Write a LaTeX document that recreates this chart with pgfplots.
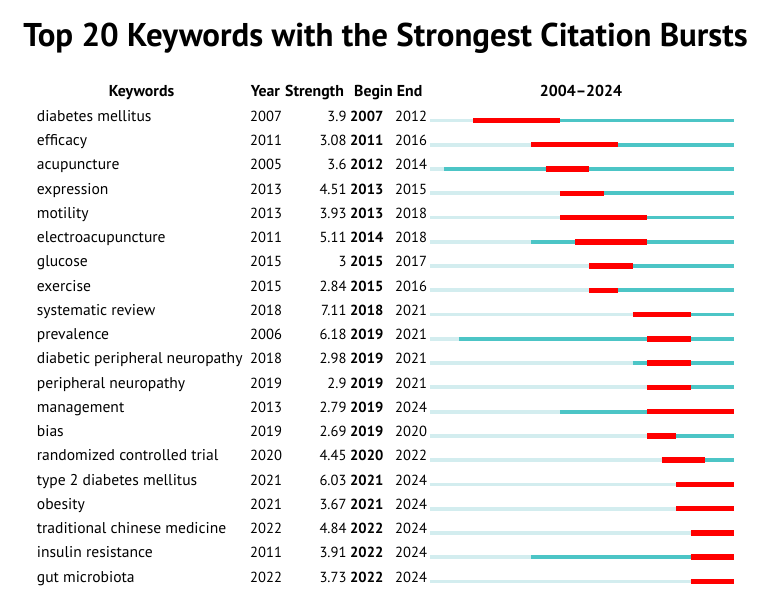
\documentclass[border=0pt]{standalone}
\usepackage{pgfplots}
\usepackage{pgfplotstable}
\pgfplotsset{compat=1.18}
\usepackage{fontspec}
\setmainfont{PT Sans}
\definecolor{lightc}{HTML}{D3EDEF}
\definecolor{darkc}{HTML}{4CC5C6}
\definecolor{burst}{HTML}{FF0000}
\pgfplotstableread{
row year begin end
1 2007 2007 2012
2 2011 2011 2016
3 2005 2012 2014
4 2013 2013 2015
5 2013 2013 2018
6 2011 2014 2018
7 2015 2015 2017
8 2015 2015 2016
9 2018 2018 2021
10 2006 2019 2021
11 2018 2019 2021
12 2019 2019 2021
13 2013 2019 2024
14 2019 2019 2020
15 2020 2020 2022
16 2021 2021 2024
17 2021 2021 2024
18 2022 2022 2024
19 2011 2022 2024
20 2022 2022 2024
}\bursts
\newcommand\kwfont{\fontsize{15.6}{18}\selectfont}
\newcommand\numfont{\fontsize{14.6}{17}\selectfont}
\newcommand\hdfont{\bfseries\fontsize{15.8}{18}\selectfont}
\begin{document}
\begin{tikzpicture}
\path[use as bounding box] (0,0) rectangle (759pt,604pt);
\begin{axis}[at={(0,0)}, anchor=south west, scale only axis,
  width=759pt, height=604pt, hide axis,
  xmin=1974.296, xmax=2026.727,
  y dir=reverse, ymin=-3.967, ymax=20.930, clip=false]
% light segment: before the keyword first appears
\addplot[draw=none, no markers, error bars/.cd, x dir=plus, x explicit,
  error mark=none, error bar style={line width=3.8pt, draw=lightc}]
  table[x expr=2004, y=row, x error expr=\thisrow{year}-2004] {\bursts};
% dark segment: after first appearance
\addplot[draw=none, no markers, error bars/.cd, x dir=plus, x explicit,
  error mark=none, error bar style={line width=3.8pt, draw=darkc}]
  table[x=year, y=row, x error expr=2025-\thisrow{year}] {\bursts};
% burst
\addplot[draw=none, no markers, error bars/.cd, x dir=plus, x explicit,
  error mark=none, error bar style={line width=5.4pt, draw=burst}]
  table[x=begin, y=row, x error expr=\thisrow{end}+1-\thisrow{begin}] {\bursts};
\end{axis}
\begin{scope}[x=1pt, y=-1pt, yshift=604pt]
\node[anchor=base, font=\bfseries\fontsize{32.9}{38}\selectfont, inner sep=0pt] at (385.5,46.7) {Top 20 Keywords with the Strongest Citation Bursts};
\begin{scope}[every node/.style={inner sep=0pt, font=\numfont}]
\node[anchor=base, font=\hdfont] at (141.5,96.3) {Keywords};
\node[anchor=base west, font=\hdfont] at (250.7,96.3) {Year};
\node[anchor=base west, font=\hdfont] at (285,96.3) {Strength};
\node[anchor=base west, font=\hdfont] at (354,96.3) {Begin};
\node[anchor=base west, font=\hdfont] at (396.7,96.3) {End};
\node[anchor=base, font=\hdfont] at (581,96.3) {2004--2024};
\foreach \kw/\yr/\st/\bg/\en [count=\i from 0] in {
 diabetes mellitus/2007/3.9/2007/2012,
 efficacy/2011/3.08/2011/2016,
 acupuncture/2005/3.6/2012/2014,
 expression/2013/4.51/2013/2015,
 motility/2013/3.93/2013/2018,
 electroacupuncture/2011/5.11/2014/2018,
 glucose/2015/3/2015/2017,
 exercise/2015/2.84/2015/2016,
 systematic review/2018/7.11/2018/2021,
 prevalence/2006/6.18/2019/2021,
 diabetic peripheral neuropathy/2018/2.98/2019/2021,
 peripheral neuropathy/2019/2.9/2019/2021,
 management/2013/2.79/2019/2024,
 bias/2019/2.69/2019/2020,
 randomized controlled trial/2020/4.45/2020/2022,
 type 2 diabetes mellitus/2021/6.03/2021/2024,
 obesity/2021/3.67/2021/2024,
 traditional chinese medicine/2022/4.84/2022/2024,
 insulin resistance/2011/3.91/2022/2024,
 gut microbiota/2022/3.73/2022/2024}{
  \pgfmathsetmacro\yy{121.3+\i*24.26}
  \node[anchor=base west, font=\kwfont] at (36.7,\yy) {\kw};
  \node[anchor=base west] at (250,\yy) {\yr};
  \node[anchor=base east] at (346.7,\yy) {\st};
  \node[anchor=base west, font=\bfseries\numfont] at (350,\yy) {\bg};
  \node[anchor=base west] at (395,\yy) {\en};
}
\end{scope}
\end{scope}
\end{tikzpicture}
\end{document}
